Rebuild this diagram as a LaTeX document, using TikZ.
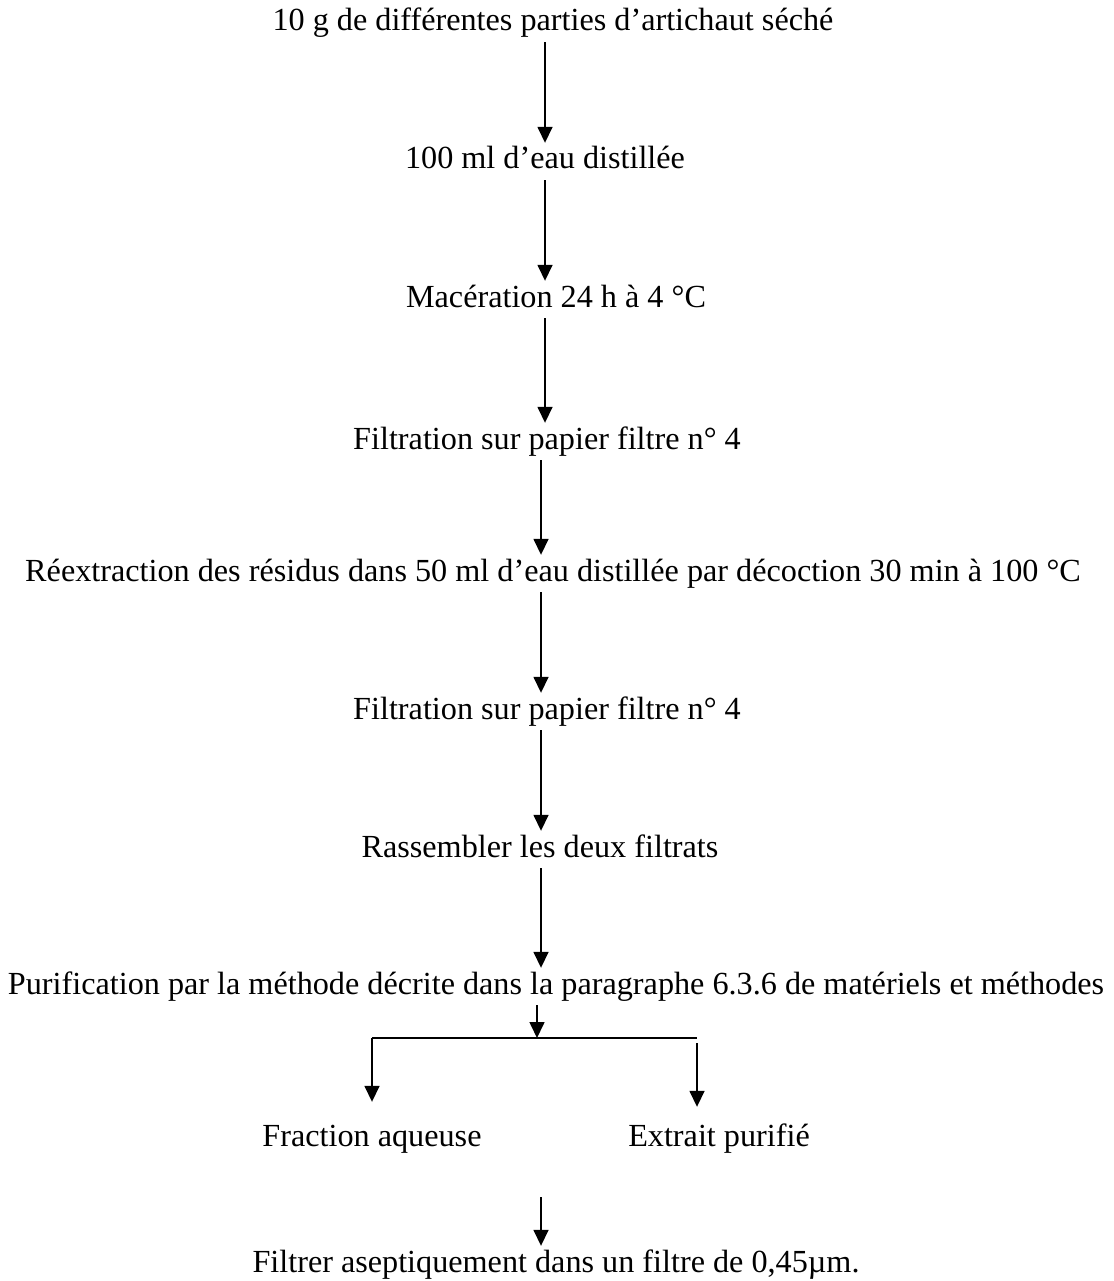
\documentclass[tikz,border=0pt]{standalone}
\usepackage{fontspec}
\setmainfont{Liberation Serif}
\usetikzlibrary{arrows.meta}

\begin{document}
\begin{tikzpicture}[x=1pt,y=-1pt,
  every node/.style={font=\fontsize{32.2}{38}\selectfont, inner xsep=0pt, inner ysep=4pt,
                     text height=22pt, text depth=7pt, anchor=base},
  flow/.style={line width=1.6pt, -{Triangle[width=15pt,length=16pt]}},
  plain/.style={line width=1.6pt}]
  \useasboundingbox (0,0) rectangle (1113,1281);

  % process steps (positions are baselines)
  \node (s1) at (553,31)   {10 g de différentes parties d’artichaut séché};
  \node (s2) at (545,169)  {100 ml d’eau distillée};
  \node (s3) at (556,307)  {Macération 24 h à 4 °C};
  \node (s4) at (547,449)  {Filtration sur papier filtre n° 4};
  \node (s5) at (553,581)  {Réextraction des résidus dans 50 ml d’eau distillée par décoction 30 min à 100 °C};
  \node (s6) at (547,719)  {Filtration sur papier filtre n° 4};
  \node (s7) at (540,857)  {Rassembler les deux filtrats};
  \node (s8) at (556,994)  {Purification par la méthode décrite dans la paragraphe 6.3.6 de matériels et méthodes};
  \node (fa) at (372,1146) {Fraction aqueuse};
  \node (ep) at (719,1146) {Extrait purifié};
  \node (s9) at (556,1272) {Filtrer aseptiquement dans un filtre de 0,45µm.};

  % columns of the vertical arrows
  \coordinate (c1) at (545,0);
  \coordinate (c2) at (541,0);
  \coordinate (c3) at (537,0);

  \draw[flow] (s1.south -| c1) -- (s2.north -| c1);
  \draw[flow] (s2.south -| c1) -- (s3.north -| c1);
  \draw[flow] (s3.south -| c1) -- (s4.north -| c1);
  \draw[flow] (s4.south -| c2) -- (s5.north -| c2);
  \draw[flow] (s5.south -| c2) -- (s6.north -| c2);
  \draw[flow] (s6.south -| c2) -- (s7.north -| c2);
  \draw[flow] (s7.south -| c2) -- (s8.north -| c2);

  % split into the two fractions
  \coordinate (bl) at (372,1038);
  \coordinate (br) at (697,1038);
  \coordinate (brt) at (697,1043);
  \draw[flow] (s8.south -| c3) -- (bl -| c3);
  \draw[plain] (bl) -- (br);
  \draw[flow, shorten >=18pt] (bl) -- (fa.north -| bl);
  \draw[flow, shorten >=13pt] (brt) -- (ep.north -| brt);

  % final filtration
  \coordinate (ft) at (541,1197);
  \draw[flow] (ft) -- (s9.north -| ft);
\end{tikzpicture}
\end{document}
